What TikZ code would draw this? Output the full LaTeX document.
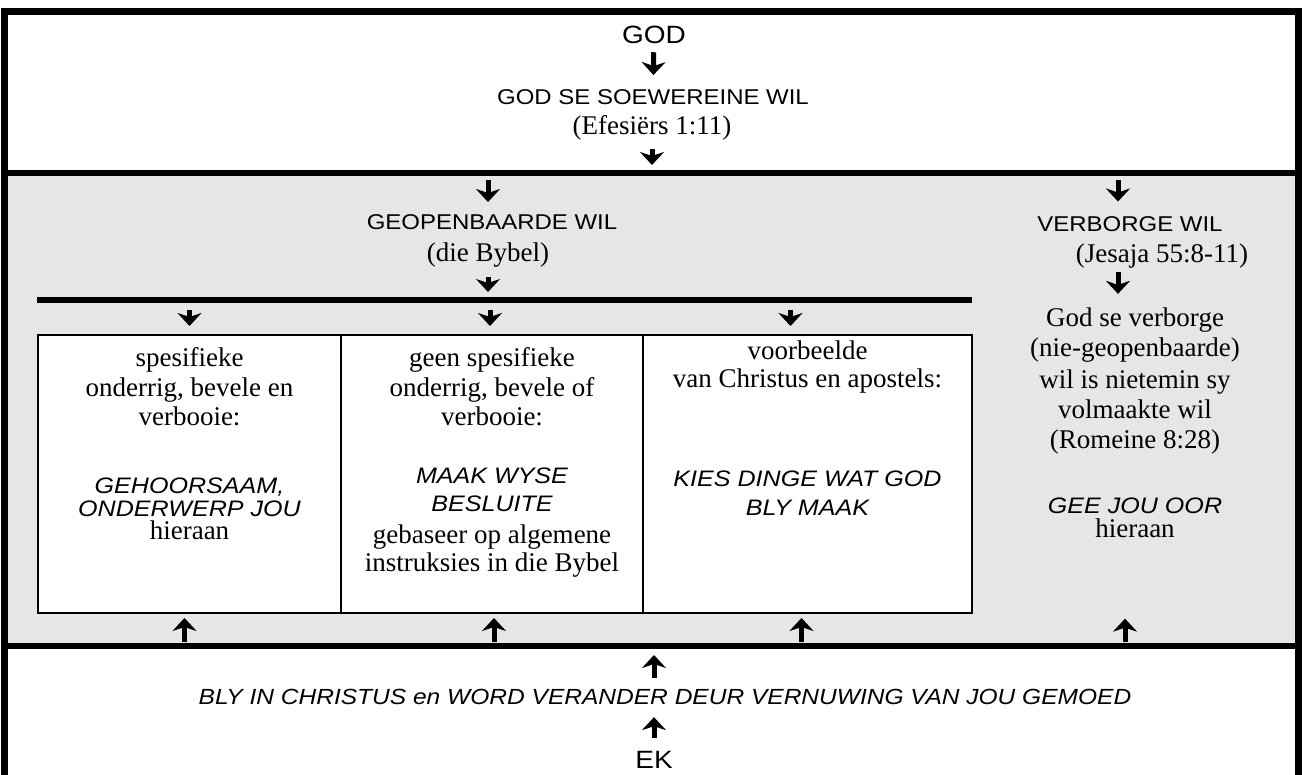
\documentclass[tikz,border=0pt]{standalone}
\usepackage{fontspec}
\setmainfont{Liberation Serif}
\newfontfamily\wide{Liberation Sans}[FakeStretch=1.12]
\usetikzlibrary{arrows.meta,calc}
\definecolor{shade}{HTML}{E6E6E6}

\begin{document}
\begin{tikzpicture}[x=0.5pt, y=-0.5pt,
  band/.style={draw, line width=3.25pt, outer sep=0pt, inner sep=0pt, minimum width=647pt},
  cell/.style={draw, line width=1pt, fill=white, outer sep=0pt, inner sep=0pt, minimum height=139pt},
  headtxt/.style={font=\wide\fontsize{10.7}{13}\selectfont, inner sep=0pt},
  bigtxt/.style={font=\wide\fontsize{12.5}{14}\selectfont, inner sep=0pt},
  ital/.style={font=\wide\itshape\fontsize{11.2}{12}\selectfont, inner sep=0pt, anchor=base},
  txt/.style={font=\fontsize{13.5}{15}\selectfont, inner sep=0pt, anchor=base},
  dn/.style={line width=2.5pt, -{Stealth[length=6.5pt, width=12pt, inset=2pt]}},
]
\useasboundingbox (0,0) rectangle (1302,775);
\clip (0,0) rectangle (1302,775);

% the three bands
\node[band, fill=shade, minimum height=236.5pt] (band2) at (651.5,409.5) {};
\node[band, minimum height=80.75pt] (band1) at (651.5,92.25) {};
\node[band, minimum height=87pt] (band3) at (651.5,733) {};

%% top
\node[bigtxt] (god) at (654,35) {GOD};
\node[headtxt] (sov) at (653,97) {GOD SE SOEWEREINE WIL};
\node[txt, anchor=center] (efe) at (652,128) {(Efesiërs 1:11)};
\draw[dn, shorten <=4pt, shorten >=7pt] (god) -- (sov);
\draw[dn, shorten <=4pt, shorten >=4pt] (efe) -- (efe |- band1.south);

%% grey band
\node[headtxt] (geo) at (492,222) {GEOPENBAARDE WIL};
\node[txt, anchor=center] (bib) at (488,255) {(die Bybel)};
\node[headtxt] (vw) at (1130,224.5) {VERBORGE WIL};
\node[txt, anchor=center] (jes) at (1162,256) {(Jesaja 55:8-11)};

\coordinate (rl) at (37,300);
\coordinate (rr) at (972,300);
\draw[line width=3pt] (rl) -- (rr);

\node[cell, minimum width=151.5pt] (b1) at (189.5,474) {};
\node[cell, minimum width=151pt] (b2) at (492,474) {};
\node[cell, minimum width=164.5pt] (b3) at (807.5,474) {};

% first cell
\node[txt] (a1) at (189.5,366) {spesifieke};
\node[txt] (a2) at (189.5,396) {onderrig, bevele en};
\node[txt] (a3) at (189.5,425) {verbooie:};
\node[ital] (a4) at (189.5,493) {GEHOORSAAM,};
\node[ital] (a5) at (189.5,516) {ONDERWERP JOU};
\node[txt] (a6) at (189.5,539) {hieraan};

% second cell
\node[txt] (m1) at (492,366) {geen spesifieke};
\node[txt] (m2) at (492,396) {onderrig, bevele of};
\node[txt] (m3) at (492,425) {verbooie:};
\node[ital] (m4) at (492,483) {MAAK WYSE};
\node[ital] (m5) at (492,511) {BESLUITE};
\node[txt] (m6) at (492,543) {gebaseer op algemene};
\node[txt] (m7) at (492,571) {instruksies in die Bybel};

% third cell
\node[txt] (v1) at (807.5,359) {voorbeelde};
\node[txt] (v2) at (807.5,387) {van Christus en apostels:};
\node[ital] (v3) at (807.5,487) {KIES DINGE WAT GOD};
\node[ital] (v4) at (807.5,515) {BLY MAAK};

% right column
\node[txt] (rc1) at (1135,327) {God se verborge};
\node[txt] (rc2) at (1135,357) {(nie-geopenbaarde)};
\node[txt] (rc3) at (1135,388) {wil is nietemin sy};
\node[txt] (rc4) at (1135,418) {volmaakte wil};
\node[txt] (rc5) at (1135,449) {(Romeine 8:28)};
\node[ital] (rc6) at (1135,513) {GEE JOU OOR};
\node[txt] (rc7) at (1135,537) {hieraan};

\draw[dn, shorten <=3.5pt, shorten >=6pt] ($(geo |- band2.north)+(-4,0)$) -- ($(geo.north)+(-4,0)$);
\draw[dn, shorten <=3.5pt, shorten >=7.5pt] ($(vw |- band2.north)+(-12,0)$) -- ($(vw.north)+(-12,0)$);
\draw[dn, shorten <=4.5pt, shorten >=4pt] (bib) -- (bib |- rl);
\draw[dn, shorten <=1.5pt, shorten >=7pt] ($(vw |- jes.south)+(-12,0)$) -- ($(vw |- rc1.north)+(-12,0)$);

\draw[dn, shorten <=5pt, shorten >=4.5pt] (b1.north |- rl) -- (b1.north);
\draw[dn, shorten <=5pt, shorten >=4.5pt] ($(b2.north |- rl)+(-2,0)$) -- ($(b2.north)+(-2,0)$);
\draw[dn, shorten <=5pt, shorten >=4.5pt] ($(b3.north)+(-17,-35)$) -- ($(b3.north)+(-17,0)$);

\draw[dn, shorten <=2pt, shorten >=2.5pt] ($(b1.south |- band3.north)+(-5,0)$) -- ($(b1.south)+(-5,0)$);
\draw[dn, shorten <=2pt, shorten >=2.5pt] ($(b2.south |- band3.north)+(2,0)$) -- ($(b2.south)+(2,0)$);
\draw[dn, shorten <=2pt, shorten >=2.5pt] ($(b3.south |- band3.north)+(-6,0)$) -- ($(b3.south)+(-6,0)$);
\draw[dn, shorten <=2pt, shorten >=40.5pt] ($(rc7.south |- band3.north)+(-10,0)$) -- ($(rc7.south)+(-10,0)$);

%% bottom
\node[ital, anchor=center, font=\wide\itshape\fontsize{10.95}{12}\selectfont] (bl) at (665,697) {BLY IN CHRISTUS en WORD VERANDER DEUR VERNUWING VAN JOU GEMOED};
\node[bigtxt] (ek) at (654,760) {EK};
\draw[dn, shorten <=5.5pt, shorten >=4.5pt] ($(bl.north)+(-11,0)$) -- ($(bl |- band3.north)+(-11,0)$);
\draw[dn, shorten <=6.5pt, shorten >=6pt] (ek) -- (ek |- bl.south);

\end{tikzpicture}
\end{document}
